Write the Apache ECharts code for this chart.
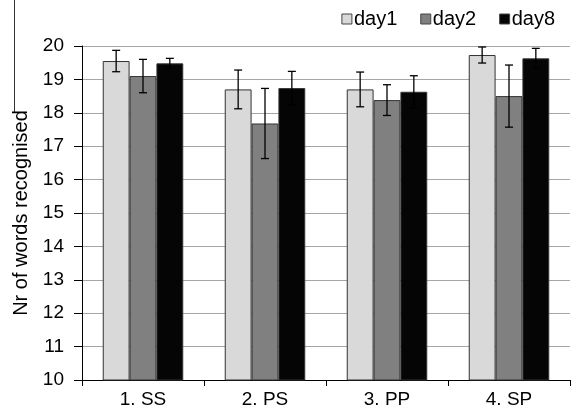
<!DOCTYPE html>
<html><head><meta charset="utf-8">
<script src="https://cdn.jsdelivr.net/npm/echarts@6/dist/echarts.min.js"></script>
<style>html,body{margin:0;padding:0;background:#fff}#c{width:572px;height:412px}</style>
</head><body><div id="c"></div>
<script>
const categories = ['1. SS', '2. PS', '3. PP', '4. SP'];
const seriesNames = ['day1', 'day2', 'day8'];
const day1 = [19.55, 18.7, 18.7, 19.73];
const day2 = [19.1, 17.68, 18.38, 18.5];
const day8 = [19.48, 18.74, 18.63, 19.63];
const day1Err = [0.32, 0.58, 0.52, 0.24];
const day2Err = [0.5, 1.05, 0.46, 0.93];
const day8Err = [0.15, 0.5, 0.48, 0.3];
const yTicks = [10, 11, 12, 13, 14, 15, 16, 17, 18, 19, 20];

const values = [day1, day2, day8];
const errs = [day1Err, day2Err, day8Err];
const colors = ['#d9d9d9', '#808080', '#050505'];
const gapRatio = 0.34;

const chart = echarts.init(document.getElementById('c'));
const barSeries = seriesNames.map((n, i) => ({
  name: n, type: 'bar', data: values[i],
  barGap: '0%', barCategoryGap: (gapRatio * 100) + '%',
  itemStyle: { color: colors[i], borderColor: '#333', borderWidth: 1 },
  z: 2
}));
const errSeries = seriesNames.map((n, i) => ({
  type: 'custom', name: n + ' err',
  data: categories.map((c, k) => [k, values[i][k] - errs[i][k], values[i][k] + errs[i][k]]),
  renderItem: function (params, api) {
    const k = api.value(0);
    const lo = api.coord([k, api.value(1)]);
    const hi = api.coord([k, api.value(2)]);
    const catW = api.size([1, 0])[0];
    const bw = catW * (1 - gapRatio) / 3;
    const x = lo[0] + (i - 1) * bw;
    const cap = 4;
    const st = { stroke: '#000', lineWidth: 1.3 };
    return { type: 'group', children: [
      { type: 'line', shape: { x1: x, y1: hi[1], x2: x, y2: lo[1] }, style: st },
      { type: 'line', shape: { x1: x - cap, y1: hi[1], x2: x + cap, y2: hi[1] }, style: st },
      { type: 'line', shape: { x1: x - cap, y1: lo[1], x2: x + cap, y2: lo[1] }, style: st }
    ]};
  },
  z: 5, silent: true
}));

chart.setOption({
  animation: false,
  textStyle: { fontFamily: 'Liberation Sans, Arial, sans-serif' },
  grid: { left: 82, right: 2, top: 46, bottom: 32 },
  legend: {
    data: seriesNames, right: 12, top: 4, itemWidth: 10, itemHeight: 10, itemGap: 23,
    icon: 'rect',
    itemStyle: { borderColor: '#444', borderWidth: 1 },
    textStyle: { fontSize: 20, color: '#000', padding: [0, 0, 0, -3] }
  },
  xAxis: {
    type: 'category', data: categories,
    axisLine: { lineStyle: { color: '#000', width: 1 } },
    axisTick: { show: true, length: 6, lineStyle: { color: '#000' } },
    axisLabel: { fontSize: 19, color: '#000', margin: 10 }
  },
  yAxis: {
    type: 'value', min: yTicks[0], max: yTicks[yTicks.length - 1], interval: 1,
    name: 'Nr of words recognised', nameLocation: 'middle', nameGap: 43, nameRotate: 90,
    nameTextStyle: { fontSize: 20, color: '#000', padding: [0, 0, 8, 0] },
    axisLine: { show: true, lineStyle: { color: '#000', width: 1 } },
    axisTick: { show: true, length: 8, lineStyle: { color: '#000' } },
    axisLabel: { fontSize: 19, color: '#000', margin: 18 },
    splitLine: { lineStyle: { color: '#a6a6a6', width: 1 } }
  },
  graphic: [{ type: 'line', shape: { x1: 14.5, y1: 0, x2: 14.5, y2: 112 }, style: { stroke: '#333', lineWidth: 1 } }],
  series: barSeries.concat(errSeries)
});
</script></body></html>
